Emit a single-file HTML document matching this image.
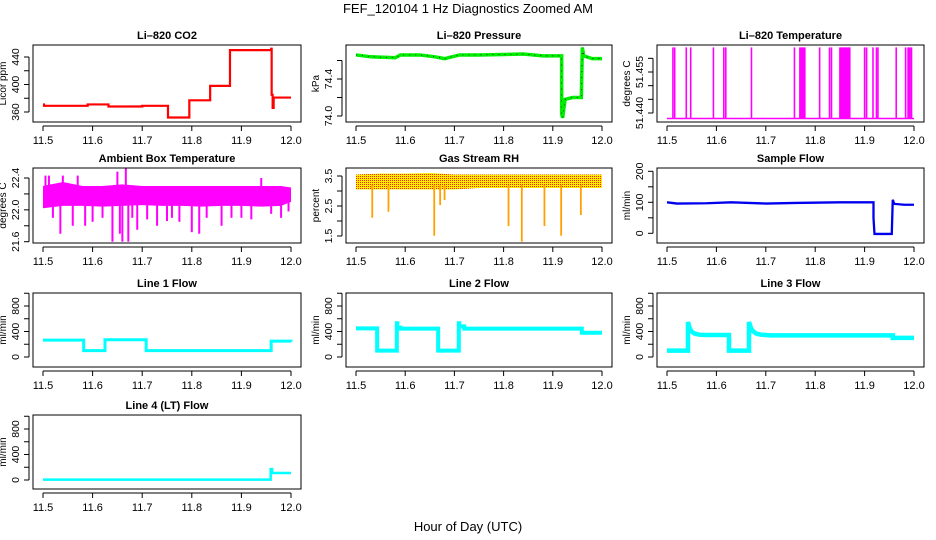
<!DOCTYPE html>
<html><head><meta charset="utf-8">
<style>
html,body{margin:0;padding:0;background:#fff;}
svg{display:block;font-family:"Liberation Sans",Arial,sans-serif;}
</style></head>
<body>
<svg id="chart" width="936" height="540" viewBox="0 0 936 540">
<defs>
<pattern id="rhpat" width="2" height="2" patternUnits="userSpaceOnUse">
<rect width="2" height="2" fill="#ffee00"/>
<rect width="1" height="1" fill="#ff2000"/>
</pattern>
</defs>
<text x="468" y="13" text-anchor="middle" font-size="13">FEF_120104  1 Hz Diagnostics Zoomed AM</text>
<text x="468" y="531" text-anchor="middle" font-size="13">Hour of Day (UTC)</text>
</svg>
<script>
// ---- data ----
const xTicks = [11.5, 11.6, 11.7, 11.8, 11.9, 12.0];
const xTickLabels = ["11.5", "11.6", "11.7", "11.8", "11.9", "12.0"];

const co2X = [11.5, 11.502, 11.59, 11.632, 11.7, 11.752, 11.795, 11.837, 11.877, 11.96, 11.961, 11.963, 11.965, 12.0];
const co2Y = [371, 369, 371, 368, 369, 352, 377, 398, 450, 452, 385, 366, 381, 381];

const presX = [11.5, 11.53, 11.58, 11.59, 11.63, 11.66, 11.68, 11.71, 11.75, 11.84, 11.88, 11.918, 11.918, 11.92, 11.925, 11.94, 11.958, 11.96, 11.963, 11.98, 12.0];
const presY = [74.66, 74.64, 74.63, 74.66, 74.66, 74.64, 74.62, 74.66, 74.66, 74.67, 74.65, 74.65, 74.02, 73.98, 74.18, 74.2, 74.2, 74.74, 74.65, 74.62, 74.62];

const tempBase = 51.438;
const tempSpikeX = [11.512, 11.5155, 11.539, 11.548, 11.594, 11.615, 11.619, 11.671, 11.758, 11.769, 11.771, 11.773, 11.775, 11.777, 11.779, 11.809, 11.829, 11.833, 11.85, 11.852, 11.854, 11.856, 11.858, 11.86, 11.862, 11.864, 11.866, 11.868, 11.87, 11.90, 11.904, 11.917, 11.924, 11.927, 11.964, 11.983, 11.988, 11.990, 11.992, 11.995];
const tempSpikeY = [51.464, 51.464, 51.464, 51.464, 51.464, 51.464, 51.464, 51.464, 51.464, 51.464, 51.464, 51.464, 51.464, 51.464, 51.464, 51.464, 51.464, 51.464, 51.464, 51.464, 51.464, 51.464, 51.464, 51.464, 51.464, 51.464, 51.464, 51.464, 51.464, 51.464, 51.464, 51.464, 51.464, 51.464, 51.464, 51.464, 51.464, 51.464, 51.464, 51.464];

const ambX = [11.5, 11.54, 11.58, 11.62, 11.66, 11.7, 11.74, 11.78, 11.82, 11.86, 11.9, 11.94, 11.98, 12.0];
const ambLo = [22.02, 22.05, 22.05, 22.04, 22.05, 22.06, 22.05, 22.05, 22.04, 22.05, 22.05, 22.04, 22.05, 22.1];
const ambHi = [22.3, 22.35, 22.3, 22.3, 22.32, 22.3, 22.3, 22.3, 22.3, 22.3, 22.3, 22.3, 22.3, 22.28];
const ambSpikeX = [11.505, 11.512, 11.52, 11.535, 11.54, 11.56, 11.57, 11.585, 11.6, 11.62, 11.64, 11.65, 11.655, 11.66, 11.667, 11.672, 11.68, 11.69, 11.71, 11.73, 11.75, 11.76, 11.775, 11.8, 11.815, 11.83, 11.86, 11.88, 11.9, 11.92, 11.94, 11.96, 11.98, 11.995];
const ambSpikeY = [22.43, 22.43, 21.9, 21.7, 22.43, 21.8, 22.43, 21.8, 21.85, 21.9, 21.6, 22.48, 21.7, 21.6, 22.55, 21.6, 21.9, 21.75, 21.88, 21.8, 21.86, 21.9, 21.85, 21.72, 21.7, 21.9, 21.8, 21.9, 21.9, 21.88, 22.4, 21.95, 21.9, 21.98];

const rhX = [11.5, 11.55, 11.6, 11.65, 11.7, 11.75, 11.8, 11.85, 11.9, 11.95, 12.0];
const rhLo = [3.05, 3.05, 3.05, 3.05, 3.05, 3.1, 3.1, 3.1, 3.1, 3.1, 3.1];
const rhHi = [3.55, 3.58, 3.58, 3.6, 3.55, 3.55, 3.55, 3.55, 3.55, 3.55, 3.55];
const rhSpikeX = [11.533, 11.566, 11.659, 11.671, 11.68, 11.81, 11.837, 11.883, 11.917, 11.957];
const rhSpikeY = [2.11, 2.31, 1.51, 2.53, 2.7, 1.83, 1.31, 1.83, 1.51, 2.2];

const sampX = [11.5, 11.52, 11.58, 11.63, 11.7, 11.76, 11.85, 11.918, 11.918, 11.92, 11.955, 11.957, 11.96, 11.98, 12.0];
const sampY = [100, 96, 97, 100, 96, 98, 100, 100, 50, -2, -2, 108, 95, 92, 92];

const l1X = [11.5, 11.582, 11.625, 11.708, 11.958, 11.96, 12.0];
const l1Y = [265, 100, 270, 100, 100, 250, 240];

const l2X = [11.5, 11.543, 11.583, 11.584, 11.59, 11.667, 11.709, 11.71, 11.72, 11.959, 12.0];
const l2Y = [450, 100, 530, 460, 445, 100, 530, 480, 445, 380, 380];

const l3X = [11.5, 11.5425, 11.5425, 11.546, 11.55, 11.555, 11.565, 11.58, 11.6255, 11.6255, 11.666, 11.666, 11.67, 11.675, 11.68, 11.69, 11.71, 11.957, 11.957, 12.0];
const l3Y = [100, 100, 550, 450, 400, 370, 350, 345, 345, 100, 100, 550, 450, 400, 370, 350, 340, 340, 300, 300];

const l4X = [11.5, 11.958, 11.959, 11.962, 12.0];
const l4Y = [5, 5, 170, 110, 110];

// ---- layout ----
const NS = "http://www.w3.org/2000/svg";
const svg = document.getElementById("chart");
const cols = [{bl:33, br:301, xl:43, xr:291}, {bl:346, br:612, xl:356, xr:602}, {bl:657, br:924, xl:667, xr:914}];
const rows = [{t:45, b:122}, {t:168, b:243}, {t:293, b:367}, {t:415, b:489}];

function mk(tag, attrs, parent) {
  const e = document.createElementNS(NS, tag);
  for (const k in attrs) e.setAttribute(k, attrs[k]);
  (parent || svg).appendChild(e);
  return e;
}

function panel(c, r, name, title, ylab, v1, p1, v2, p2, yticks, ylabels) {
  const C = cols[c], R = rows[r];
  const g = mk("g", {});
  
  
  const sx = v => C.xl + (v - 11.5) / 0.5 * (C.xr - C.xl);
  const sy = v => p1 + (v - v1) / (v2 - v1) * (p2 - p1);
  const clipId = "clip-" + name;
  const cp = mk("clipPath", {id: clipId}, g);
  mk("rect", {x: C.bl, y: R.t, width: C.br - C.bl, height: R.b - R.t}, cp);
  const plot = mk("g", {"clip-path": "url(#" + clipId + ")"}, g);
  
  
  const frame = mk("rect", {x: C.bl, y: R.t, width: C.br - C.bl, height: R.b - R.t, fill: "none", stroke: "#000", "stroke-width": 1}, g);
  
  
  const tt = mk("text", {x: (C.bl + C.br) / 2, y: R.t - 6, "text-anchor": "middle", "font-size": 11, "font-weight": "bold"}, g);
  tt.textContent = title;
  
  
  const xa = mk("g", {}, g);
  
  
  mk("line", {x1: sx(xTicks[0]), x2: sx(xTicks[xTicks.length - 1]), y1: R.b + 4, y2: R.b + 4, stroke: "#000"}, xa);
  xTicks.forEach((t, i) => {
    mk("line", {x1: sx(t), x2: sx(t), y1: R.b + 4, y2: R.b + 9, stroke: "#000"}, xa);
    const tx = mk("text", {x: sx(t), y: R.b + 22, "text-anchor": "middle", "font-size": 11}, xa);
    tx.textContent = xTickLabels[i];
  });
  const ya = mk("g", {}, g);
  
  
  const ax = C.bl - 4;
  mk("line", {x1: ax, x2: ax, y1: sy(yticks[0]), y2: sy(yticks[yticks.length - 1]), stroke: "#000"}, ya);
  yticks.forEach((t, i) => {
    mk("line", {x1: ax - 5, x2: ax, y1: sy(t), y2: sy(t), stroke: "#000"}, ya);
    if (ylabels[i] !== "") {
      const lx = C.bl - 14, ly = sy(t);
      const tx = mk("text", {x: lx, y: ly, "text-anchor": "middle", "font-size": 10.5, transform: "rotate(-90 " + lx + " " + ly + ")"}, ya);
      tx.textContent = ylabels[i];
    }
  });
  const yl = mk("text", {x: C.bl - 27, y: (R.t + R.b) / 2, "text-anchor": "middle", "font-size": 10, transform: "rotate(-90 " + (C.bl - 27) + " " + ((R.t + R.b) / 2) + ")"}, g);
  yl.textContent = ylab;
  
  
  return {plot, sx, sy};
}

function stepPath(P, xs, ys) {
  let d = "M" + P.sx(xs[0]) + "," + P.sy(ys[0]);
  for (let i = 1; i < xs.length; i++) d += "H" + P.sx(xs[i]) + "V" + P.sy(ys[i]);
  return d;
}
function linePath(P, xs, ys) {
  return xs.map((x, i) => (i ? "L" : "M") + P.sx(x) + "," + P.sy(ys[i])).join("");
}
function bandPath(P, xs, lo, hi) {
  let d = xs.map((x, i) => (i ? "L" : "M") + P.sx(x) + "," + P.sy(hi[i])).join("");
  for (let i = xs.length - 1; i >= 0; i--) d += "L" + P.sx(xs[i]) + "," + P.sy(lo[i]);
  return d + "Z";
}
function spikes(P, xs, ys, base, color, w, name) {
  xs.forEach((x, i) => {
    const l = mk("line", {x1: P.sx(x), x2: P.sx(x), y1: P.sy(base), y2: P.sy(ys[i]), stroke: color, "stroke-width": w}, P.plot);
    
    
  });
}

let P = panel(0, 0, "co2", "Li\u2013820 CO2", "Licor ppm", 360, 112, 440, 57, [360, 380, 400, 420, 440], ["360", "", "400", "", "440"]);
let s = mk("path", {d: stepPath(P, co2X, co2Y), fill: "none", stroke: "#ff0000", "stroke-width": 2.2}, P.plot);



P = panel(1, 0, "pressure", "Li\u2013820 Pressure", "kPa", 74.0, 116, 74.4, 79, [74.0, 74.2, 74.4, 74.6], ["74.0", "", "74.4", ""]);
s = mk("path", {d: linePath(P, presX, presY), fill: "none", stroke: "#00ee00", "stroke-width": 3.5}, P.plot);


s = mk("path", {d: linePath(P, presX, presY), fill: "none", stroke: "#000", "stroke-width": 0.7, "stroke-dasharray": "1 5"}, P.plot);



P = panel(2, 0, "li820-temp", "Li\u2013820 Temperature", "degrees C", 51.440, 113, 51.455, 72, [51.440, 51.445, 51.450, 51.455, 51.460], ["51.440", "", "", "51.455", ""]);
s = mk("line", {x1: P.sx(11.5), x2: P.sx(12.0), y1: P.sy(tempBase), y2: P.sy(tempBase), stroke: "#ff00ff", "stroke-width": 1.5}, P.plot);


spikes(P, tempSpikeX, tempSpikeY, tempBase, "#ff00ff", 1.6, "li820-temp-spike");

P = panel(0, 1, "ambient", "Ambient Box Temperature", "degrees C", 21.6, 241.7, 22.4, 178, [21.6, 21.8, 22.0, 22.2, 22.4], ["21.6", "", "22.0", "", "22.4"]);
s = mk("path", {d: bandPath(P, ambX, ambLo, ambHi), fill: "#ff00ff"}, P.plot);


spikes(P, ambSpikeX, ambSpikeY, 22.15, "#ff00ff", 2, "ambient-spike");

P = panel(1, 1, "rh", "Gas Stream RH", "percent", 1.5, 236, 3.5, 176, [1.5, 2.0, 2.5, 3.0, 3.5], ["1.5", "", "2.5", "", "3.5"]);
s = mk("path", {d: bandPath(P, rhX, rhLo, rhHi), fill: "url(#rhpat)"}, P.plot);


spikes(P, rhSpikeX, rhSpikeY, 3.2, "#ffa000", 1.8, "rh-spike");

P = panel(2, 1, "sample-flow", "Sample Flow", "ml/min", 0, 233.3, 100, 202.3, [0, 50, 100, 150, 200], ["0", "", "100", "", "200"]);
s = mk("path", {d: linePath(P, sampX, sampY), fill: "none", stroke: "#0000ee", "stroke-width": 2.3}, P.plot);



const flowTicks = [0, 200, 400, 600, 800, 1000];
const flowLabels = ["0", "", "400", "", "800", ""];
P = panel(0, 2, "line1-flow", "Line 1 Flow", "ml/min", 0, 357, 800, 306, flowTicks, flowLabels);
s = mk("path", {d: stepPath(P, l1X, l1Y), fill: "none", stroke: "#00ffff", "stroke-width": 3}, P.plot);



P = panel(1, 2, "line2-flow", "Line 2 Flow", "ml/min", 0, 357, 800, 306, flowTicks, flowLabels);
s = mk("path", {d: stepPath(P, l2X, l2Y), fill: "none", stroke: "#00ffff", "stroke-width": 4}, P.plot);



P = panel(2, 2, "line3-flow", "Line 3 Flow", "ml/min", 0, 357, 800, 306, flowTicks, flowLabels);
s = mk("path", {d: linePath(P, l3X, l3Y), fill: "none", stroke: "#00ffff", "stroke-width": 4.5}, P.plot);



P = panel(0, 3, "line4-flow", "Line 4 (LT) Flow", "ml/min", 0, 480, 800, 429, flowTicks, flowLabels);
s = mk("path", {d: stepPath(P, l4X, l4Y), fill: "none", stroke: "#00ffff", "stroke-width": 2.5}, P.plot);


</script>
</body></html>
